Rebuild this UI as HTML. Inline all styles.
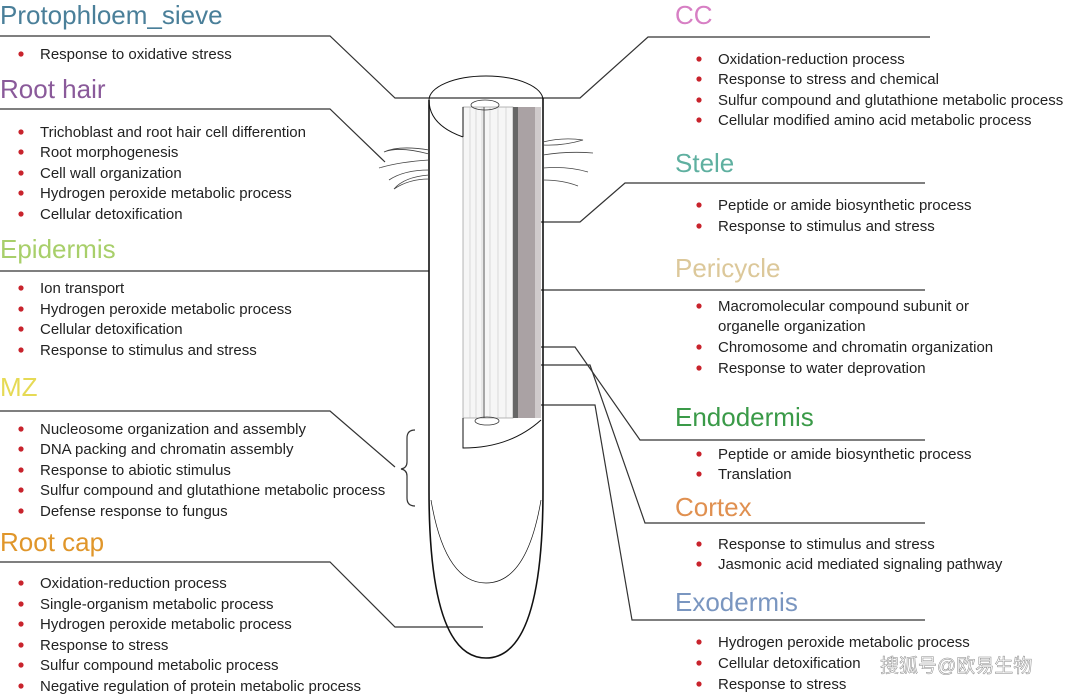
<!DOCTYPE html>
<html><head><meta charset="utf-8"><style>
html,body{margin:0;padding:0;background:#fff}
svg{display:block}
.t{font-family:"Liberation Sans",sans-serif;font-size:26px}
.b{font-family:"Liberation Sans",sans-serif;font-size:15px;fill:#222}
</style></head><body>
<svg width="1080" height="696" viewBox="0 0 1080 696" xmlns="http://www.w3.org/2000/svg">
<g fill="none" stroke="#333" stroke-width="1.2">
<polyline points="0,36 330,36 395,98 580,98 648,37 930,37"/>
<polyline points="0,109 330,109 385,162"/>
<polyline points="0,271 429,271"/>
<polyline points="0,411 330,411 395,467"/>
<path d="M415,430 q-8,0 -8,8 v24 q0,6 -6,7 q6,1 6,7 v22 q0,8 8,8"/>
<polyline points="0,562 330,562 395,627 483,627"/>
<polyline points="495,222 580,222 625,183 925,183"/>
<polyline points="513,290 925,290"/>
<polyline points="518,347 575,347 640,440 925,440"/>
<polyline points="525,365 590,365 645,523 925,523"/>
<polyline points="538,405 595,405 632,620 925,620"/>
</g>
<g stroke="#111" fill="none">
<path d="M429,150 V490 Q429,658 486,658 Q543,658 543,490 V98" stroke-width="1.6"/>
<path d="M429,100 A57,24 0 0 1 543,100" stroke-width="1"/>
<path d="M429,100 Q429,125 463,137" stroke-width="1"/>
<line x1="429" y1="100" x2="429" y2="150" stroke-width="1.6"/>
<path d="M431,500 Q445,583 486,583 Q527,583 541,500" stroke-width="0.7"/>
</g>
<rect x="463" y="107" width="50" height="311" fill="#f6f6f6" stroke="#888" stroke-width="0.6"/>
<g stroke="#bbb" stroke-width="0.5">
<line x1="470" y1="107" x2="470" y2="418"/><line x1="476" y1="107" x2="476" y2="418"/>
<line x1="482" y1="107" x2="482" y2="418"/><line x1="490" y1="107" x2="490" y2="418"/>
<line x1="498" y1="107" x2="498" y2="418"/><line x1="506" y1="107" x2="506" y2="418"/>
</g>
<line x1="484" y1="107" x2="484" y2="418" stroke="#555" stroke-width="1"/>
<rect x="513" y="107" width="5" height="311" fill="#666"/>
<rect x="518" y="107" width="17" height="311" fill="#aaa2a4"/>
<rect x="535" y="107" width="6" height="311" fill="#cfcacb"/>
<path d="M463,107 L463,137" stroke="#111"/>
<ellipse cx="485" cy="105" rx="14" ry="5" fill="none" stroke="#333" stroke-width="0.8"/>
<path d="M463,418 V448 Q510,448 541,420" stroke="#111" fill="none"/>
<ellipse cx="487" cy="421" rx="12" ry="4" fill="none" stroke="#333" stroke-width="0.8"/>
<g stroke="#444" fill="none" stroke-width="0.8">
<path d="M429,150 q-30,-5 -45,2 q15,-6 45,2"/><path d="M429,160 q-30,2 -50,8"/><path d="M429,170 q-25,0 -40,10"/><path d="M429,175 q-25,2 -35,14 q15,-10 35,-10"/>
<path d="M543,142 q20,-5 40,-2 q-20,6 -40,5"/><path d="M543,155 q25,-4 50,-2"/><path d="M543,168 q25,-2 45,4"/><path d="M543,180 q20,0 35,6"/>
</g>
<text class="t" x="0" y="24" fill="#4a7f99">Protophloem_sieve</text>
<text class="t" x="0" y="98" fill="#8a5a9a">Root hair</text>
<text class="t" x="0" y="258" fill="#a8cf6a">Epidermis</text>
<text class="t" x="0" y="396" fill="#e6da55">MZ</text>
<text class="t" x="0" y="551" fill="#e0962a">Root cap</text>
<text class="t" x="675" y="24" fill="#d77fc4">CC</text>
<text class="t" x="675" y="172" fill="#5fb0a0">Stele</text>
<text class="t" x="675" y="277" fill="#dcc89a">Pericycle</text>
<text class="t" x="675" y="426" fill="#3a9a48">Endodermis</text>
<text class="t" x="675" y="516" fill="#e09050">Cortex</text>
<text class="t" x="675" y="611" fill="#7a96c0">Exodermis</text>
<g fill="#c8232c">
<circle cx="21" cy="54" r="2.6"/>
<circle cx="21" cy="132" r="2.6"/><circle cx="21" cy="152" r="2.6"/><circle cx="21" cy="173" r="2.6"/><circle cx="21" cy="193" r="2.6"/><circle cx="21" cy="214" r="2.6"/>
<circle cx="21" cy="288" r="2.6"/><circle cx="21" cy="309" r="2.6"/><circle cx="21" cy="329" r="2.6"/><circle cx="21" cy="350" r="2.6"/>
<circle cx="21" cy="429" r="2.6"/><circle cx="21" cy="449" r="2.6"/><circle cx="21" cy="470" r="2.6"/><circle cx="21" cy="490" r="2.6"/><circle cx="21" cy="511" r="2.6"/>
<circle cx="21" cy="583" r="2.6"/><circle cx="21" cy="604" r="2.6"/><circle cx="21" cy="624" r="2.6"/><circle cx="21" cy="645" r="2.6"/><circle cx="21" cy="665" r="2.6"/><circle cx="21" cy="686" r="2.6"/>
<circle cx="699" cy="59" r="2.6"/><circle cx="699" cy="79" r="2.6"/><circle cx="699" cy="100" r="2.6"/><circle cx="699" cy="120" r="2.6"/>
<circle cx="699" cy="205" r="2.6"/><circle cx="699" cy="226" r="2.6"/>
<circle cx="699" cy="306" r="2.6"/><circle cx="699" cy="347" r="2.6"/><circle cx="699" cy="368" r="2.6"/>
<circle cx="699" cy="454" r="2.6"/><circle cx="699" cy="474" r="2.6"/>
<circle cx="699" cy="544" r="2.6"/><circle cx="699" cy="564" r="2.6"/>
<circle cx="699" cy="642" r="2.6"/><circle cx="699" cy="663" r="2.6"/><circle cx="699" cy="684" r="2.6"/>
</g>
<g class="b">
<text x="40" y="59">Response to oxidative stress</text>
<text x="40" y="137">Trichoblast and root hair cell differention</text>
<text x="40" y="157">Root morphogenesis</text>
<text x="40" y="178">Cell wall organization</text>
<text x="40" y="198">Hydrogen peroxide metabolic process</text>
<text x="40" y="219">Cellular detoxification</text>
<text x="40" y="293">Ion transport</text>
<text x="40" y="314">Hydrogen peroxide metabolic process</text>
<text x="40" y="334">Cellular detoxification</text>
<text x="40" y="355">Response to stimulus and stress</text>
<text x="40" y="434">Nucleosome organization and assembly</text>
<text x="40" y="454">DNA packing and chromatin assembly</text>
<text x="40" y="475">Response to abiotic stimulus</text>
<text x="40" y="495">Sulfur compound and glutathione metabolic process</text>
<text x="40" y="516">Defense response to fungus</text>
<text x="40" y="588">Oxidation-reduction process</text>
<text x="40" y="609">Single-organism metabolic process</text>
<text x="40" y="629">Hydrogen peroxide metabolic process</text>
<text x="40" y="650">Response to stress</text>
<text x="40" y="670">Sulfur compound metabolic process</text>
<text x="40" y="691">Negative regulation of protein metabolic process</text>
<text x="718" y="64">Oxidation-reduction process</text>
<text x="718" y="84">Response to stress and chemical</text>
<text x="718" y="105">Sulfur compound and glutathione metabolic process</text>
<text x="718" y="125">Cellular modified amino acid metabolic process</text>
<text x="718" y="210">Peptide or amide biosynthetic process</text>
<text x="718" y="231">Response to stimulus and stress</text>
<text x="718" y="311">Macromolecular compound subunit or</text>
<text x="718" y="331">organelle organization</text>
<text x="718" y="352">Chromosome and chromatin organization</text>
<text x="718" y="373">Response to water deprovation</text>
<text x="718" y="459">Peptide or amide biosynthetic process</text>
<text x="718" y="479">Translation</text>
<text x="718" y="549">Response to stimulus and stress</text>
<text x="718" y="569">Jasmonic acid mediated signaling pathway</text>
<text x="718" y="647">Hydrogen peroxide metabolic process</text>
<text x="718" y="668">Cellular detoxification</text>
<text x="718" y="689">Response to stress</text>
</g>
<text x="880" y="672" font-family="'Liberation Sans','Noto Sans CJK SC',sans-serif" font-size="19" fill="#fff" stroke="#888" stroke-width="0.5">搜狐号@欧易生物</text>
</svg>
</body></html>
